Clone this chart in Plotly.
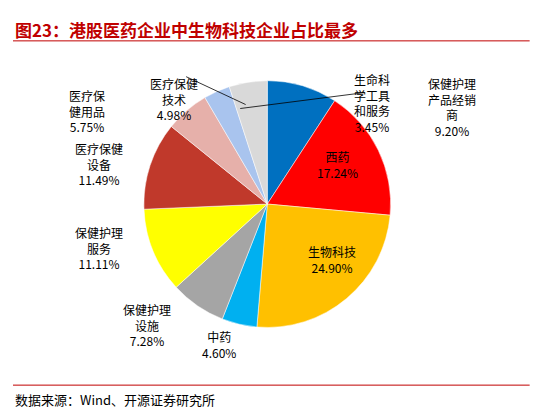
import plotly.graph_objects as go

labels = ["保健护理产品经销商", "西药", "生物科技", "中药", "保健护理设施", "保健护理服务",
          "医疗保健设备", "医疗保健用品", "生命科学工具和服务", "医疗保健技术"]
values = [9.20, 17.24, 24.90, 4.60, 7.28, 11.11, 11.49, 5.75, 3.45, 4.98]
colors = ["#0070c0", "#ff0000", "#ffc000", "#00b0f0", "#a5a5a5", "#ffff00",
          "#c0392b", "#e6b0aa", "#a9c4ee", "#d9d9d9"]

# label text and where it sits (paper coords)
label_text = {
    "保健护理产品经销商": ("保健护理<br>产品经销<br>商<br>9.20%", 0.86, 0.85),
    "西药": ("西药<br>17.24%", 0.6, 0.62),
    "生物科技": ("生物科技<br>24.90%", 0.59, 0.38),
    "中药": ("中药<br>4.60%", 0.38, 0.12),
    "保健护理设施": ("保健护理<br>设施<br>7.28%", 0.2, 0.15),
    "保健护理服务": ("保健护理<br>服务<br>11.11%", 0.11, 0.41),
    "医疗保健设备": ("医疗保健<br>设备<br>11.49%", 0.11, 0.62),
    "医疗保健用品": ("医疗保<br>健用品<br>5.75%", 0.1, 0.82),
    "生命科学工具和服务": ("生命科<br>学工具<br>和服务<br>3.45%", 0.7, 0.86),
    "医疗保健技术": ("医疗保健<br>技术<br>4.98%", 0.25, 0.85),
}

fig = go.Figure(go.Pie(
    labels=labels, values=values, sort=False, direction="clockwise", rotation=0,
    marker=dict(colors=colors, line=dict(color="white", width=0.5)),
    textinfo="none", hoverinfo="label+percent", showlegend=False,
    domain=dict(x=[0.225, 0.715], y=[0.21, 0.83]),
))

font = dict(family="Noto Sans CJK SC", size=12, color="black")
for name in labels:
    txt, x, y = label_text[name]
    fig.add_annotation(x=x, y=y, xref="paper", yref="paper", text=txt,
                       showarrow=False, font=font, align="center")

# leader lines for the two small top slices
fig.add_shape(type="line", xref="paper", yref="paper", x0=0.32, y0=0.84, x1=0.43, y1=0.77,
              line=dict(color="black", width=0.8))
fig.add_shape(type="line", xref="paper", yref="paper", x0=0.65, y0=0.8, x1=0.42, y1=0.76,
              line=dict(color="black", width=0.8))

fig.add_annotation(x=0.0, y=0.995, xref="paper", yref="paper", xanchor="left", yanchor="top",
                   text="<b>图23：港股医药企业中生物科技企业占比最多</b>", showarrow=False,
                   font=dict(family="Noto Sans CJK SC", size=17, color="#c00000"))
fig.add_shape(type="line", xref="paper", yref="paper", x0=0, x1=0.955, y0=0.93, y1=0.93,
              line=dict(color="#c00000", width=1))
fig.add_shape(type="line", xref="paper", yref="paper", x0=0, x1=0.955, y0=0.065, y1=0.065,
              line=dict(color="#c00000", width=1))
fig.add_annotation(x=0.0, y=0.0, xref="paper", yref="paper", xanchor="left", yanchor="bottom",
                   text="数据来源：Wind、开源证券研究所", showarrow=False,
                   font=dict(family="Noto Sans CJK SC", size=13, color="black"))

fig.update_layout(width=551, height=408, margin=dict(l=5, r=5, t=5, b=5),
                  paper_bgcolor="white", plot_bgcolor="white")
fig.write_html("out.html")
